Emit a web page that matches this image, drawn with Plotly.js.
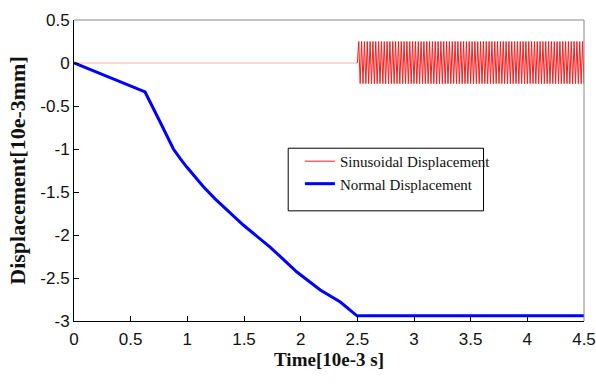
<!DOCTYPE html>
<html>
<head>
<meta charset="utf-8">
<script src="https://cdn.plot.ly/plotly-3.0.1.min.js"></script>
<style>html,body{margin:0;padding:0;background:#fff;}#chart{width:596px;height:386px;}</style>
</head>
<body>
<div id="chart"></div>
<script>
// Normal displacement (blue)
const normT = [0, 0.627, 0.76, 0.877, 0.936, 0.995, 1.142, 1.245, 1.496, 1.73, 1.967, 2.173, 2.35, 2.497, 4.5];
const normY = [0, -0.337, -0.686, -1.0, -1.11, -1.21, -1.44, -1.58, -1.887, -2.14, -2.43, -2.64, -2.78, -2.94, -2.94];

// Sinusoidal displacement (red): flat part until 2.5 ...
const sinFlatT = [0, 2.5];
const sinFlatY = [0, 0];
// ... then dense oscillation from 2.5 to 4.5
const sinT = [2.5,
  2.5125, 2.525, 2.5375, 2.55, 2.5625, 2.575, 2.5875, 2.6, 2.6125, 2.625, 2.6375, 2.65, 2.6625, 2.675, 2.6875, 2.7,
  2.7125, 2.725, 2.7375, 2.75, 2.7625, 2.775, 2.7875, 2.8, 2.8125, 2.825, 2.8375, 2.85, 2.8625, 2.875, 2.8875, 2.9,
  2.9125, 2.925, 2.9375, 2.95, 2.9625, 2.975, 2.9875, 3.0, 3.0125, 3.025, 3.0375, 3.05, 3.0625, 3.075, 3.0875, 3.1,
  3.1125, 3.125, 3.1375, 3.15, 3.1625, 3.175, 3.1875, 3.2, 3.2125, 3.225, 3.2375, 3.25, 3.2625, 3.275, 3.2875, 3.3,
  3.3125, 3.325, 3.3375, 3.35, 3.3625, 3.375, 3.3875, 3.4, 3.4125, 3.425, 3.4375, 3.45, 3.4625, 3.475, 3.4875, 3.5,
  3.5125, 3.525, 3.5375, 3.55, 3.5625, 3.575, 3.5875, 3.6, 3.6125, 3.625, 3.6375, 3.65, 3.6625, 3.675, 3.6875, 3.7,
  3.7125, 3.725, 3.7375, 3.75, 3.7625, 3.775, 3.7875, 3.8, 3.8125, 3.825, 3.8375, 3.85, 3.8625, 3.875, 3.8875, 3.9,
  3.9125, 3.925, 3.9375, 3.95, 3.9625, 3.975, 3.9875, 4.0, 4.0125, 4.025, 4.0375, 4.05, 4.0625, 4.075, 4.0875, 4.1,
  4.1125, 4.125, 4.1375, 4.15, 4.1625, 4.175, 4.1875, 4.2, 4.2125, 4.225, 4.2375, 4.25, 4.2625, 4.275, 4.2875, 4.3,
  4.3125, 4.325, 4.3375, 4.35, 4.3625, 4.375, 4.3875, 4.4, 4.4125, 4.425, 4.4375, 4.45, 4.4625, 4.475, 4.4875, 4.5];
const sinY = [0,
  0.25, -0.24, 0.25, -0.24, 0.25, -0.24, 0.25, -0.24, 0.25, -0.24, 0.25, -0.24, 0.25, -0.24, 0.25, -0.24,
  0.25, -0.24, 0.25, -0.24, 0.25, -0.24, 0.25, -0.24, 0.25, -0.24, 0.25, -0.24, 0.25, -0.24, 0.25, -0.24,
  0.25, -0.24, 0.25, -0.24, 0.25, -0.24, 0.25, -0.24, 0.25, -0.24, 0.25, -0.24, 0.25, -0.24, 0.25, -0.24,
  0.25, -0.24, 0.25, -0.24, 0.25, -0.24, 0.25, -0.24, 0.25, -0.24, 0.25, -0.24, 0.25, -0.24, 0.25, -0.24,
  0.25, -0.24, 0.25, -0.24, 0.25, -0.24, 0.25, -0.24, 0.25, -0.24, 0.25, -0.24, 0.25, -0.24, 0.25, -0.24,
  0.25, -0.24, 0.25, -0.24, 0.25, -0.24, 0.25, -0.24, 0.25, -0.24, 0.25, -0.24, 0.25, -0.24, 0.25, -0.24,
  0.25, -0.24, 0.25, -0.24, 0.25, -0.24, 0.25, -0.24, 0.25, -0.24, 0.25, -0.24, 0.25, -0.24, 0.25, -0.24,
  0.25, -0.24, 0.25, -0.24, 0.25, -0.24, 0.25, -0.24, 0.25, -0.24, 0.25, -0.24, 0.25, -0.24, 0.25, -0.24,
  0.25, -0.24, 0.25, -0.24, 0.25, -0.24, 0.25, -0.24, 0.25, -0.24, 0.25, -0.24, 0.25, -0.24, 0.25, -0.24,
  0.25, -0.24, 0.25, -0.24, 0.25, -0.24, 0.25, -0.24, 0.25, -0.24, 0.25, -0.24, 0.25, -0.24, 0.25, -0.24];

const xTicks = [0, 0.5, 1, 1.5, 2, 2.5, 3, 3.5, 4, 4.5];
const xTickText = ['0', '0.5', '1', '1.5', '2', '2.5', '3', '3.5', '4', '4.5'];
const yTicks = [0.5, 0, -0.5, -1, -1.5, -2, -2.5, -3];
const yTickText = ['0.5', '0', '-0.5', '-1', '-1.5', '-2', '-2.5', '-3'];

const tickFont = {family: '"Liberation Sans", Arial, sans-serif', size: 17, color: '#111'};
const xTitleFont = {family: '"Liberation Serif", "Times New Roman", serif', size: 19, color: '#111', weight: 'bold'};
const yTitleFont = {family: '"Liberation Serif", "Times New Roman", serif', size: 22, color: '#111', weight: 'bold'};

const traces = [
  {x: sinFlatT, y: sinFlatY, type: 'scatter', mode: 'lines', showlegend: false, hoverinfo: 'skip',
   line: {color: '#ffb0b0', width: 1}},
  {x: sinT, y: sinY, type: 'scatter', mode: 'lines', name: 'Sinusoidal Displacement',
   line: {color: '#ff1a1a', width: 1}},
  {x: normT, y: normY, type: 'scatter', mode: 'lines', name: 'Normal Displacement',
   line: {color: '#0000ff', width: 3}}
];

const layout = {
  width: 596, height: 386,
  margin: {l: 74, r: 12, t: 20, b: 65},
  paper_bgcolor: '#fff', plot_bgcolor: '#fff',
  showlegend: true,
  legend: {x: 0.443, y: 0.585, xanchor: 'left', yanchor: 'top', bgcolor: 'rgba(0,0,0,0)', borderwidth: 0,
           font: {family: '"Liberation Serif", "Times New Roman", serif', size: 15, color: '#111'},
           tracegroupgap: 0},
  xaxis: {range: [0, 4.5], tickvals: xTicks, ticktext: xTickText, ticks: 'inside', ticklen: 5,
          tickcolor: '#000', showline: true, linecolor: '#000', linewidth: 1, showgrid: false, zeroline: false,
          tickfont: tickFont, ticklabelstandoff: 3,
          title: {text: 'Time[10e-3 s]', font: xTitleFont, standoff: 4}},
  yaxis: {range: [-3, 0.5], tickvals: yTicks, ticktext: yTickText, ticks: 'inside', ticklen: 5,
          tickcolor: '#000', showline: true, linecolor: '#000', linewidth: 1, showgrid: false, zeroline: false,
          tickfont: tickFont,
          title: {text: 'Displacement[10e-3mm]', font: yTitleFont, standoff: 8}},
  shapes: [
    {type: 'line', xref: 'paper', yref: 'paper', x0: 0, x1: 1, y0: 1, y1: 1, line: {color: '#888', width: 1}},
    {type: 'line', xref: 'paper', yref: 'paper', x0: 1, x1: 1, y0: 0, y1: 1, line: {color: '#888', width: 1}},
    {type: 'rect', xref: 'paper', yref: 'paper', x0: 0.42, x1: 0.803, y0: 0.366, y1: 0.574,
     line: {color: '#000', width: 1}, fillcolor: 'rgba(0,0,0,0)'}
  ]
};

Plotly.newPlot('chart', traces, layout, {displayModeBar: false, staticPlot: true});
</script>
</body>
</html>
